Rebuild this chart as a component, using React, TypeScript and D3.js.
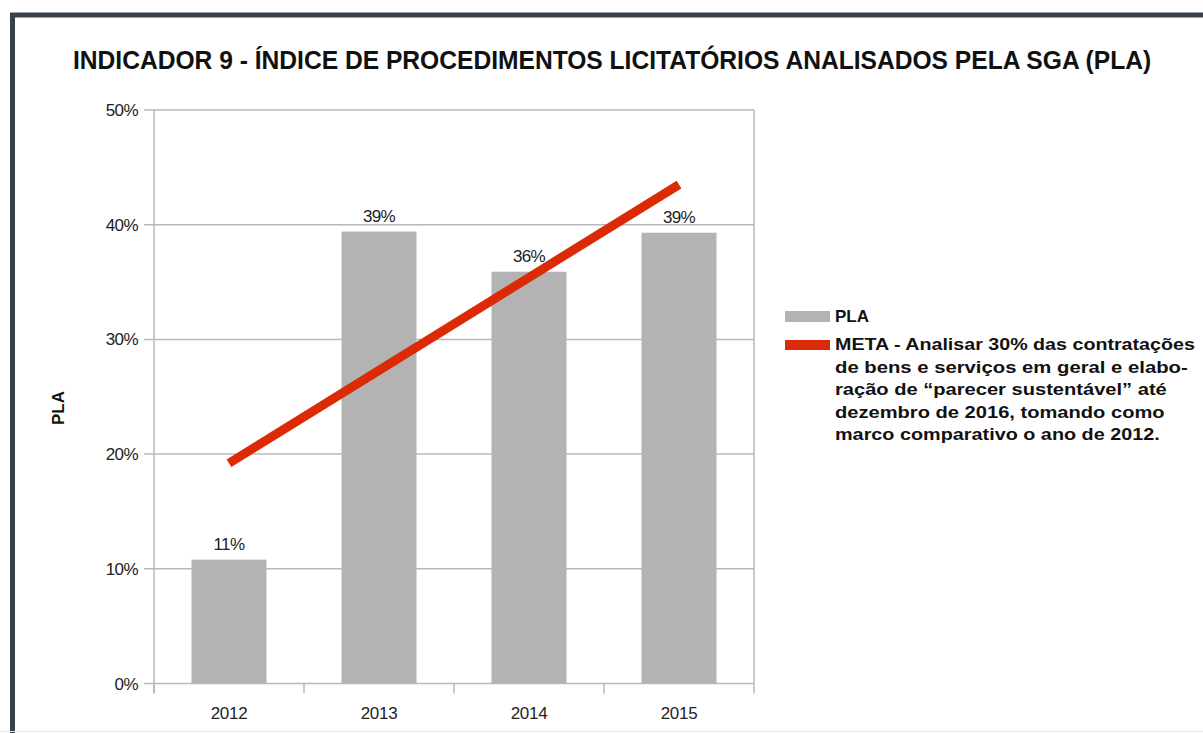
import React, { useLayoutEffect, useRef, useState } from "react";
import * as d3 from "d3";

const categories = ["2012", "2013", "2014", "2015"];
const plaValues = [10.8, 39.4, 35.9, 39.3];
const plaLabels = ["11%", "39%", "36%", "39%"];
const metaValues = [19.2, 27.3, 35.4, 43.5];
const yTicks = [0, 10, 20, 30, 40, 50];
const titleText = "INDICADOR 9 - ÍNDICE DE PROCEDIMENTOS LICITATÓRIOS ANALISADOS PELA SGA (PLA)";
const legendPla = "PLA";
const legendMetaLines = [
  "META - Analisar 30% das contratações",
  "de bens e serviços em geral e elabo-",
  "ração de “parecer sustentável” até",
  "dezembro de 2016, tomando como",
  "marco comparativo o ano de 2012.",
];
const legendLineWidths = [360, 353, 332, 330, 325];

const W = 1203;
const H = 733;
const left = 154;
const right = 754;
const top = 110;
const bottom = 683.5;
const font = "'Liberation Sans', Arial, sans-serif";
const gridColor = "#b8b8b8";
const barColor = "#b3b3b3";
const red = "#dd2a06";

function FitText({ x, y, width, children, ...rest }: any) {
  const ref = useRef<SVGTextElement>(null);
  const [sx, setSx] = useState(1);
  useLayoutEffect(() => {
    if (ref.current) {
      const w = ref.current.getComputedTextLength();
      if (w > 0) setSx(width / w);
    }
  }, [width]);
  return (
    <text ref={ref} transform={`translate(${x},${y}) scale(${sx},1)`} {...rest}>
      {children}
    </text>
  );
}

export default function App() {
  const x = d3.scaleBand<string>().domain(categories).range([left, right]).paddingInner(0.5).paddingOuter(0.25);
  const xc = d3.scaleBand<string>().domain(categories).range([left, right]).padding(0);
  const y = d3.scaleLinear().domain([0, 50]).range([bottom, top]);
  const line = d3
    .line<number>()
    .x((_, i) => (xc(categories[i]) as number) + xc.bandwidth() / 2)
    .y((d) => y(d));

  const boundaries = categories.map((c) => xc(c) as number).concat([right]);

  return (
    <svg
      width={W}
      height={H}
      style={{ position: "absolute", left: 0, top: 0, background: "#fff" }}
      fontFamily={font}
    >
      <rect x={0} y={0} width={W} height={H} fill="#fff" />
      {/* outer frame */}
      <path d={`M12.5,${H + 5} L12.5,15 L${W + 5},15`} fill="none" stroke="#37424d" strokeWidth={5} />
      <line x1={0} x2={W} y1={731.5} y2={731.5} stroke="#e4e4e4" strokeWidth={1} />

      {/* title */}
      <FitText x={73} y={69} width={1079} fontSize={26} fontWeight="bold" fill="#111">
        {titleText}
      </FitText>

      {/* grid lines and y ticks */}
      {yTicks.map((t) => (
        <g key={t}>
          <line x1={left - 10} x2={right} y1={y(t)} y2={y(t)} stroke={gridColor} strokeWidth={1.5} />
          <text x={138} y={y(t) + 6} fontSize={17} textAnchor="end" fill="#222" letterSpacing={-0.6}>
            {t}%
          </text>
        </g>
      ))}
      {/* axes */}
      <line x1={left} x2={left} y1={top} y2={bottom + 10} stroke={gridColor} strokeWidth={1.5} />
      <line x1={right} x2={right} y1={top} y2={bottom} stroke={gridColor} strokeWidth={1.5} />
      {boundaries.map((b, i) => (
        <line key={i} x1={b} x2={b} y1={bottom} y2={bottom + 10} stroke={gridColor} strokeWidth={1.5} />
      ))}

      {/* bars */}
      {categories.map((c, i) => (
        <g key={c}>
          <rect
            x={x(c)}
            y={y(plaValues[i])}
            width={x.bandwidth()}
            height={bottom - y(plaValues[i])}
            fill={barColor}
          />
          <text
            x={(x(c) as number) + x.bandwidth() / 2}
            y={y(plaValues[i]) - 10}
            fontSize={17}
            textAnchor="middle"
            fill="#222"
            letterSpacing={-0.6}
          >
            {plaLabels[i]}
          </text>
          <text
            x={(xc(c) as number) + xc.bandwidth() / 2}
            y={719}
            fontSize={17}
            textAnchor="middle"
            fill="#222"
            letterSpacing={-0.3}
          >
            {c}
          </text>
        </g>
      ))}

      {/* meta line */}
      <path d={line(metaValues) || ""} fill="none" stroke={red} strokeWidth={9} strokeLinecap="butt" />

      {/* y axis title */}
      <text
        transform="translate(64,408) rotate(-90)"
        fontSize={17}
        fontWeight="bold"
        textAnchor="middle"
        fill="#111"
      >
        PLA
      </text>

      {/* legend */}
      <rect x={785} y={311} width={45} height={11} fill={barColor} />
      <text x={835} y={322} fontSize={17} fontWeight="bold" fill="#111">
        {legendPla}
      </text>
      <rect x={785} y={340} width={45} height={10} fill={red} />
      {legendMetaLines.map((l, i) => (
        <FitText key={i} x={835} y={350 + i * 22.5} width={legendLineWidths[i]} fontSize={17} fontWeight="bold" fill="#111">
          {l}
        </FitText>
      ))}
    </svg>
  );
}
